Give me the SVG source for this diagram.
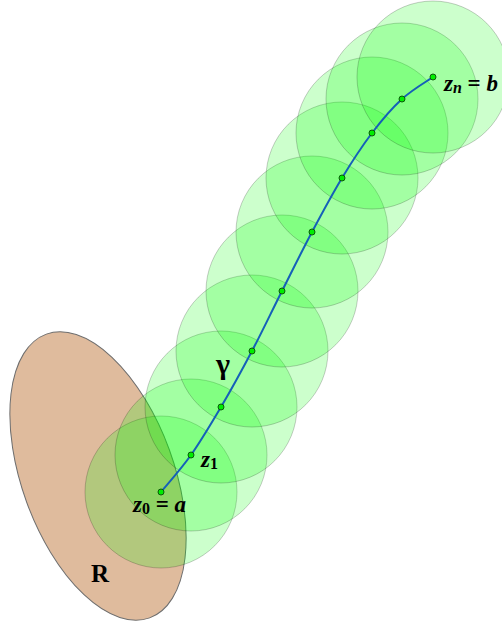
<svg xmlns="http://www.w3.org/2000/svg" width="502" height="625" viewBox="0 0 502 625">
<style>
.disk{fill:#00ff00;fill-opacity:0.2;stroke:#000;stroke-opacity:0.2;stroke-width:1}
.pt{fill:#00ee00;stroke:#0a5a0a;stroke-width:1}
.lbl{font-family:"Liberation Serif","DejaVu Serif",serif;font-weight:bold;font-size:23px;fill:#000}
.it{font-style:italic}
</style>
<rect width="502" height="625" fill="#fff"/>
<g id="region-R">
<ellipse cx="98" cy="476" rx="76" ry="151" transform="rotate(-20 98 476)" fill="#dfbb9d" stroke="#6e6e6e" stroke-width="1"/>
<text class="lbl" x="91" y="582" style="font-size:25px">R</text>
</g>
<g id="disks">
<circle class="disk" cx="161" cy="492" r="76"/>
<circle class="disk" cx="191" cy="455" r="76"/>
<circle class="disk" cx="221" cy="407" r="76"/>
<circle class="disk" cx="252" cy="351" r="76"/>
<circle class="disk" cx="282" cy="291" r="76"/>
<circle class="disk" cx="312" cy="232" r="76"/>
<circle class="disk" cx="342" cy="178" r="76"/>
<circle class="disk" cx="372" cy="133" r="76"/>
<circle class="disk" cx="402" cy="99" r="76"/>
<circle class="disk" cx="433" cy="77" r="76"/>
</g>
<g id="connectors">
<path d="M161,492 C166,485.8 181,469.2 191,455 C201,440.8 210.8,424.3 221,407 C231.2,389.7 241.8,370.3 252,351 C262.2,331.7 272,310.8 282,291 C292,271.2 302,250.8 312,232 C322,213.2 332,194.5 342,178 C352,161.5 362,146.2 372,133 C382,119.8 391.8,108.3 402,99 C412.2,89.7 427.8,80.7 433,77" fill="none" stroke="#1560b8" stroke-width="2"/>
</g>
<g id="points">
<circle class="pt" cx="161" cy="492" r="3"/>
<circle class="pt" cx="191" cy="455" r="3"/>
<circle class="pt" cx="221" cy="407" r="3"/>
<circle class="pt" cx="252" cy="351" r="3"/>
<circle class="pt" cx="282" cy="291" r="3"/>
<circle class="pt" cx="312" cy="232" r="3"/>
<circle class="pt" cx="342" cy="178" r="3"/>
<circle class="pt" cx="372" cy="133" r="3"/>
<circle class="pt" cx="402" cy="99" r="3"/>
<circle class="pt" cx="433" cy="77" r="3"/>
</g>
<g id="labels">
<text class="lbl" x="133" y="512"><tspan class="it">z</tspan><tspan font-size="16" dy="2">0</tspan><tspan dy="-2"> = </tspan><tspan class="it">a</tspan></text>
<text class="lbl" x="201" y="467"><tspan class="it">z</tspan><tspan font-size="16" dy="2">1</tspan></text>
<text class="lbl" x="444" y="91"><tspan class="it">z</tspan><tspan class="it" font-size="16" dy="2">n</tspan><tspan dy="-2"> = </tspan><tspan class="it">b</tspan></text>
<text class="lbl" x="216" y="374" style="font-size:30px">γ</text>
</g>
</svg>
